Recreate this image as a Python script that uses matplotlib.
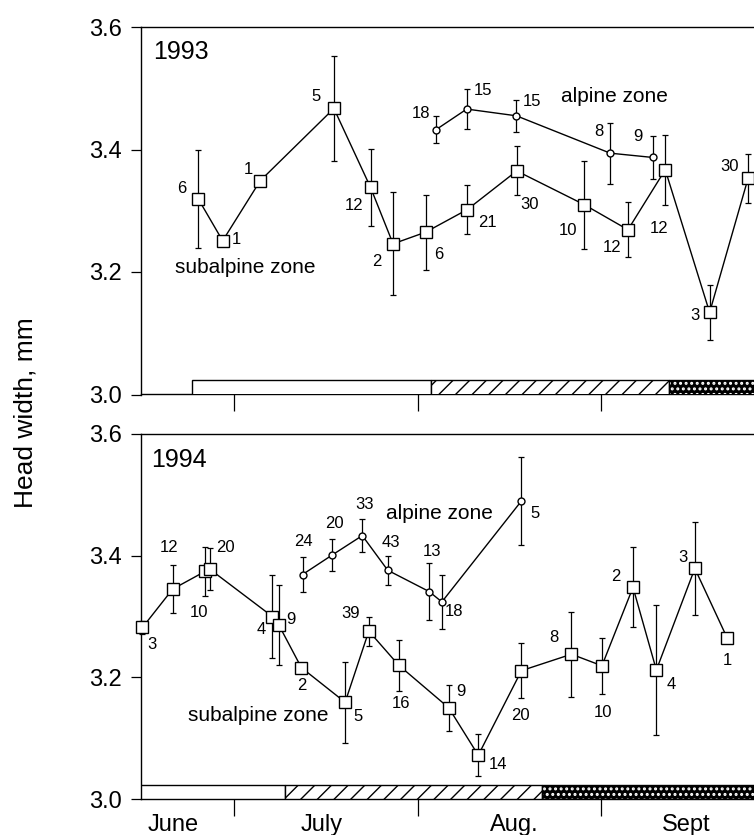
import numpy as np
import matplotlib
matplotlib.use("Agg")
import matplotlib.pyplot as plt
from matplotlib import transforms

plt.rcParams['font.family'] = ['Liberation Sans', 'DejaVu Sans']
plt.rcParams['hatch.linewidth'] = 1.0

# ---------------- data (x = days after 1 June) ----------------
month_labels = ["June", "July", "Aug.", "Sept"]
month_label_days = [19.7, 44.7, 77.3, 106.4]
month_boundaries = [30, 61, 92]

ytick_values = [3.0, 3.2, 3.4, 3.6]
ytick_labels = ["3.0", "3.2", "3.4", "3.6"]

# 1993 subalpine
sub93_day = [23.9, 28.0, 34.35, 46.8, 53.0, 56.8, 62.3, 69.35, 77.7, 89.1, 96.5, 102.8, 110.3, 116.8]
sub93_val = [3.319, 3.251, 3.349, 3.467, 3.338, 3.246, 3.265, 3.302, 3.365, 3.310, 3.269, 3.367, 3.134, 3.353]
sub93_err = [0.080, 0.0, 0.0, 0.085, 0.063, 0.084, 0.061, 0.040, 0.040, 0.072, 0.045, 0.057, 0.045, 0.040]
sub93_n = [6, 1, 1, 5, 12, 2, 6, 21, 30, 10, 12, 12, 3, 30]

# 1993 alpine
alp93_day = [64.0, 69.25, 77.65, 93.5, 100.7]
alp93_val = [3.432, 3.466, 3.455, 3.394, 3.387]
alp93_err = [0.022, 0.033, 0.026, 0.050, 0.035]
alp93_n = [18, 15, 15, 8, 9]

# 1994 subalpine
sub94_day = [14.45, 19.55, 25.0, 25.8, 36.4, 37.5, 41.3, 48.7, 52.7, 57.75, 66.2, 71.2, 78.5, 86.95, 92.1, 97.35, 101.3, 107.8, 113.3]
sub94_val = [3.282, 3.345, 3.374, 3.378, 3.300, 3.286, 3.216, 3.159, 3.276, 3.220, 3.150, 3.072, 3.211, 3.238, 3.219, 3.348, 3.212, 3.379, 3.264]
sub94_err = [0.010, 0.039, 0.041, 0.035, 0.069, 0.066, 0.0, 0.067, 0.024, 0.042, 0.038, 0.035, 0.045, 0.070, 0.046, 0.066, 0.107, 0.077, 0.0]
sub94_n = [3, 12, 10, 20, 4, 9, 2, 5, 39, 16, 9, 14, 20, 8, 10, 2, 4, 3, 1]

# 1994 alpine
alp94_day = [41.5, 46.5, 51.6, 55.9, 62.9, 65.05, 78.5]
alp94_val = [3.369, 3.401, 3.433, 3.376, 3.341, 3.324, 3.490]
alp94_err = [0.028, 0.027, 0.027, 0.024, 0.047, 0.044, 0.073]
alp94_n = [24, 20, 33, 43, 13, 18, 5]

# season bars: start days of (open, hatched, dotted) segments
season93_starts = [22.9, 63.25, 103.5]
season94_starts = [14.2, 38.6, 82.0]

# ---------------- layout (label offsets in pixels) ----------------
sub93_off = [(-17, 11), (14, 1), (-12, 11), (-18, 12), (-17, -18), (-16, -18), (13, -22),
             (20, -13), (13, -34), (-16, -26), (-16, -18), (-6, -59), (-15, -3), (-19, 12)]
alp93_off = [(-15, 16), (16, 19), (16, 14), (-11, 22), (-15, 21)]
sub94_off = [(9, -17), (-4, 42), (-6, -41), (16, 22), (-11, -13), (12, 6), (0, -18), (13, -14),
             (-18, 18), (2, -38), (12, 16), (20, -9), (-1, -45), (-18, 17), (1, -47), (-17, 11),
             (15, -14), (-12, 11), (0, -22)]
alp94_off = [(1, 33), (2, 32), (2, 31), (3, 28), (3, 40), (12, -10), (14, -13)]

XMIN, XMAX = 14.2, 117.8
BAR_H = 0.023

fig = plt.figure(figsize=(7.54, 8.35), dpi=100)
ax1 = fig.add_axes([141 / 754, 1 - 394.5 / 835, 1 - 141 / 754, 367.5 / 835])
ax2 = fig.add_axes([141 / 754, 1 - 799 / 835, 1 - 141 / 754, 365 / 835])


def style_axes(ax):
    ax.set_xlim(XMIN, XMAX)
    ax.set_ylim(3.0, 3.6)
    ax.spines['right'].set_visible(False)
    for s in ['top', 'left', 'bottom']:
        ax.spines[s].set_linewidth(1.0)
    ax.set_yticks(ytick_values)
    ax.set_yticklabels(ytick_labels, fontsize=17)
    ax.tick_params(axis='y', direction='out', length=7, width=0.9, pad=7)
    ax.set_xticks(month_boundaries)
    ax.set_xticklabels([])
    ax.tick_params(axis='x', direction='out', length=12, width=0.9)


def season_bar(ax, starts):
    ends = list(starts[1:]) + [XMAX + 5]
    # open
    ax.bar(starts[0], BAR_H, width=ends[0] - starts[0], bottom=3.0, align='edge',
           facecolor='white', edgecolor='black', linewidth=1.0, zorder=3)
    # hatched
    ax.bar(starts[1], BAR_H, width=ends[1] - starts[1], bottom=3.0, align='edge',
           facecolor='white', edgecolor='black', hatch='//', linewidth=1.0, zorder=3)
    # dotted (black with white dots)
    with plt.rc_context({'hatch.linewidth': 1.4}):
        ax.bar(starts[2], BAR_H, width=ends[2] - starts[2], bottom=3.0, align='edge',
               facecolor='black', edgecolor='white', hatch='...', linewidth=0, zorder=3)
    ax.bar(starts[2], BAR_H, width=ends[2] - starts[2], bottom=3.0, align='edge',
           facecolor='none', edgecolor='black', linewidth=1.0, zorder=3)


def series(ax, day, val, err, n, offs, marker, ms):
    day = np.asarray(day); val = np.asarray(val); err = np.asarray(err)
    m = err > 0
    ax.errorbar(day[m], val[m], yerr=err[m], fmt='none', ecolor='black',
                elinewidth=0.9, capsize=2, capthick=0.9, zorder=4, clip_on=False)
    ax.plot(day, val, color='black', lw=1.0, marker=marker, ms=ms,
            mfc='white', mec='black', mew=1.0, zorder=5, clip_on=False)
    for d, v, k, o in zip(day, val, n, offs):
        ax.annotate(str(k), (d, v), xytext=o, textcoords='offset pixels',
                    ha='center', va='center', fontsize=12, zorder=6)


for ax in (ax1, ax2):
    style_axes(ax)

season_bar(ax1, season93_starts)
season_bar(ax2, season94_starts)

series(ax1, sub93_day, sub93_val, sub93_err, sub93_n, sub93_off, 's', 8)
series(ax1, alp93_day, alp93_val, alp93_err, alp93_n, alp93_off, 'o', 5)
series(ax2, sub94_day, sub94_val, sub94_err, sub94_n, sub94_off, 's', 8)
series(ax2, alp94_day, alp94_val, alp94_err, alp94_n, alp94_off, 'o', 5)

ax1.text(0.0196, 0.932, "1993", transform=ax1.transAxes, fontsize=18, ha='left', va='center')
ax2.text(0.016, 0.929, "1994", transform=ax2.transAxes, fontsize=18, ha='left', va='center')

ax1.text(94.2, 3.486, "alpine zone", fontsize=15, ha='center', va='center')
ax1.text(31.8, 3.207, "subalpine zone", fontsize=15, ha='center', va='center')
ax2.text(64.65, 3.470, "alpine zone", fontsize=15, ha='center', va='center')
ax2.text(34.0, 3.138, "subalpine zone", fontsize=15, ha='center', va='center')

trans = transforms.blended_transform_factory(ax2.transData, ax2.transAxes)
for lab, d in zip(month_labels, month_label_days):
    ax2.text(d, -0.071, lab, transform=trans, fontsize=17, ha='center', va='center')

fig.text(25 / 754, 1 - 413 / 835, "Head width, mm", rotation=90, fontsize=19,
         ha='center', va='center')

fig.savefig("out.png", dpi=100)
